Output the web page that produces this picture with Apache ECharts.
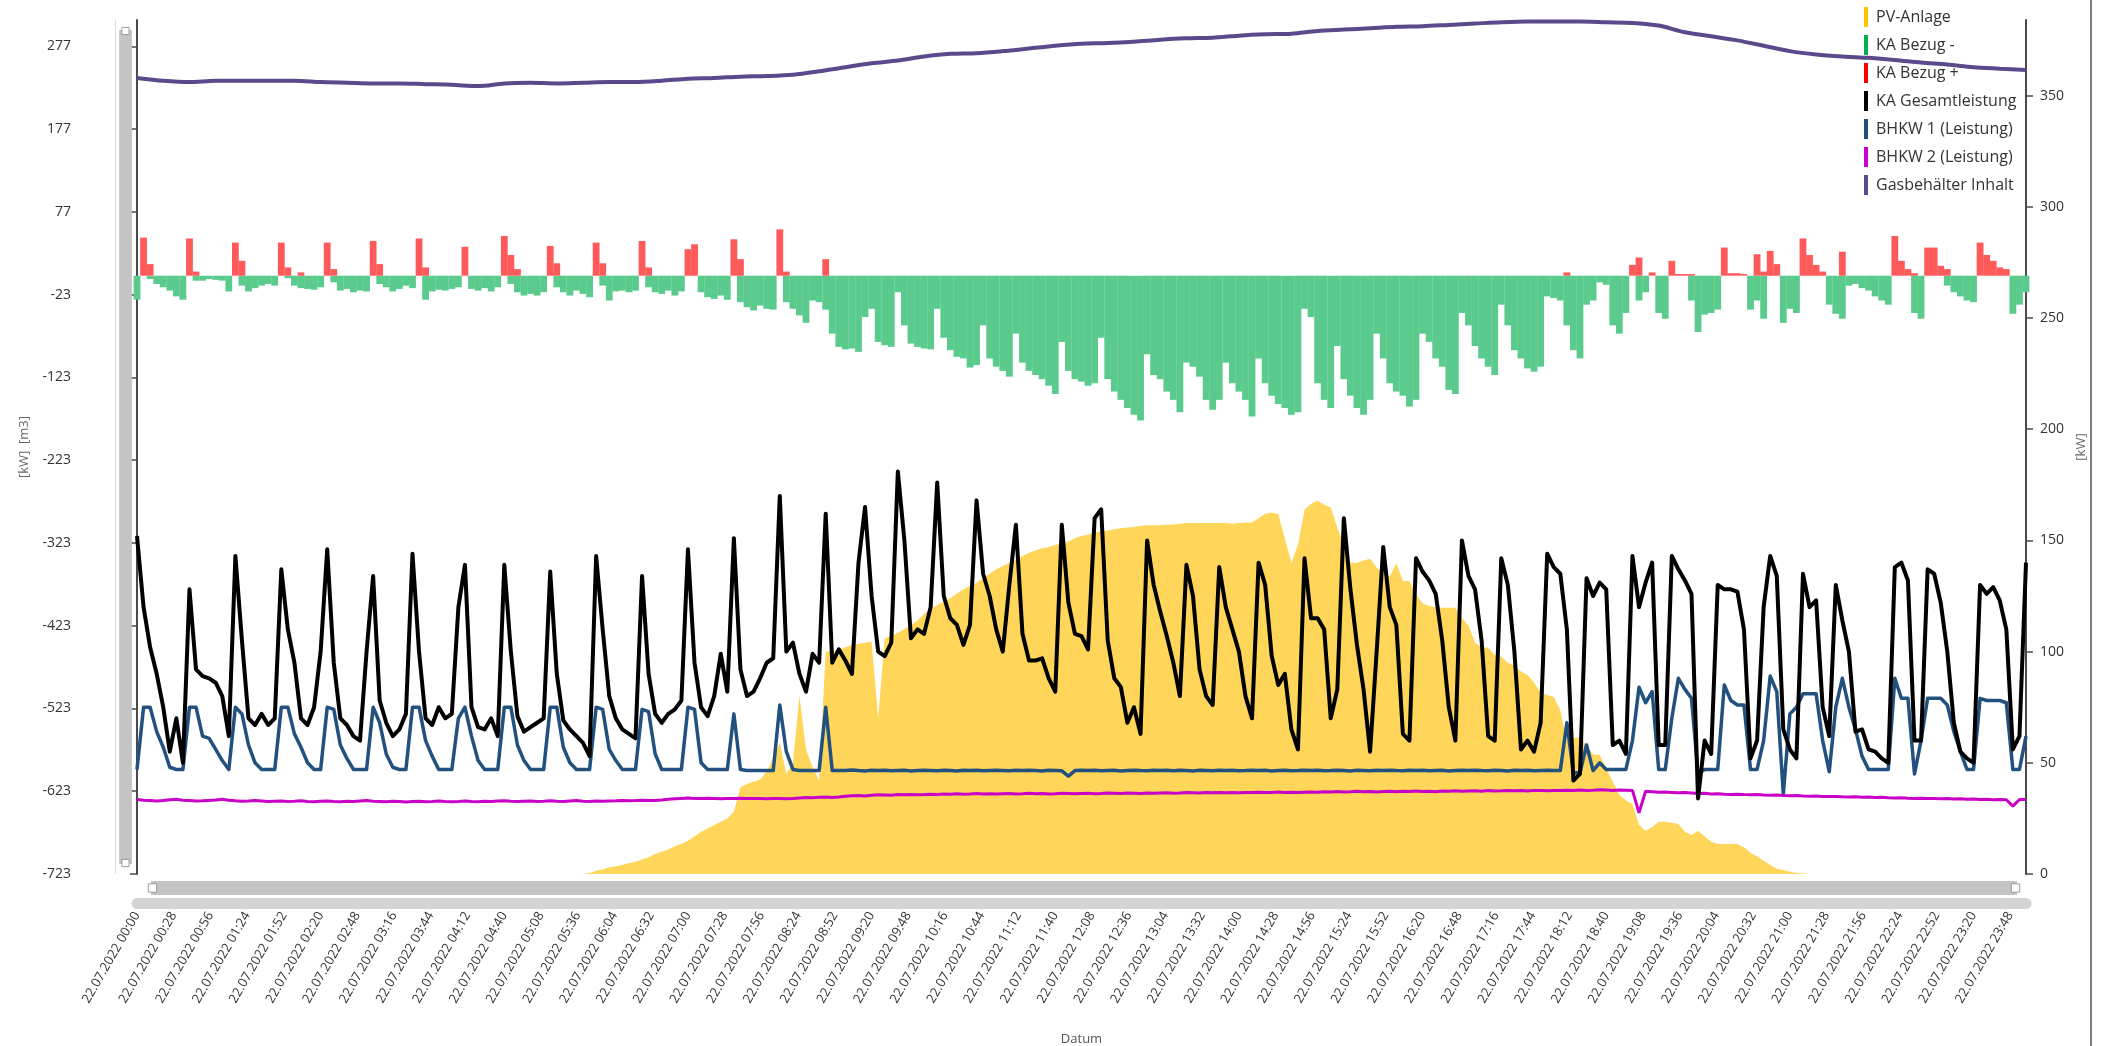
<!DOCTYPE html>
<html>
<head>
<meta charset="utf-8">
<script src="https://cdn.jsdelivr.net/npm/echarts@6/dist/echarts.min.js"></script>
<style>
html,body{margin:0;padding:0;background:#fff;}
#chart{width:2108px;height:1046px;}
</style>
</head>
<body>
<div id="chart"></div>
<script>
// ---- data (5-minute steps from 00:00, last value = 24:00) ----
const stepMin = 5;
const gasStepMin = 20;
const dateLabel = '22.07.2022';
const xTickStep = 28;
const leftTicks = [-723, -623, -523, -423, -323, -223, -123, -23, 77, 177, 277];
const rightTicks = [0, 50, 100, 150, 200, 250, 300, 350];

const pvAnlage = [
0,0,0,0,0,0,0,0,0,0,0,0,
0,0,0,0,0,0,0,0,0,0,0,0,
0,0,0,0,0,0,0,0,0,0,0,0,
0,0,0,0,0,0,0,0,0,0,0,0,
0,0,0,0,0,0,0,0,0,0,0,0,
0,0,0,0,0,0,0,0,0,0.5,1.5,2,
3,3.5,4,5,5.5,6.5,7.5,9,10,11,12.5,13.5,
15,17,19,20.5,22,23.5,25,28,39,40.5,41.5,42.5,
46,52,59,45,50,80,56,48,42,100,100,101,
102,103,103.5,104,104.5,70,106,107,108.5,110,112,114,
117,119,121,122.5,124,126,128,129.5,131,133,135,137,
138.5,140,141.5,143,144.5,145.5,146.5,147,148,148.5,149.5,151,
152,152.5,153.5,154,154.5,155,155.5,155.8,156,156.5,156.8,156.8,
156.8,157,157.2,157.5,157.8,157.8,157.8,157.8,157.8,157.8,157.8,157.5,
157.8,158,158,160,162,162.5,161.8,151,140,148,163.8,166.5,
167.8,166,164.8,155.8,148,140,139.8,141,141.8,137.8,135,133.8,
139.8,131.8,131.8,125.7,121.7,120.5,120,119.7,119.7,119.7,115,111.7,
104,102,101.7,98.5,97.7,95,93.7,91,89.6,86,81.6,80.5,
79.6,73.6,59.6,61,61.6,58,53.6,53.6,47.5,41.5,35.5,33,
31.5,22,19.5,21,23.5,23.5,23,22.5,19,17.5,19.5,17,
14.5,13.5,13.5,13.5,13.5,12,9.5,8,6,4,2.4,1.8,
1,0.5,0.2,0,0,0,0,0,0,0,0,0,
0,0,0,0,0,0,0,0,0,0,0,0,
0,0,0,0,0,0,0,0,0,0,0,0,
0];

const kaBezugMinus = [
-29,0,-4,-10,-14,-18,-25,-29,0,-6,-6,-4,
-5,-6,-19,0,-12,-19,-15,-12,-10,-12,0,-3,
-12,-15,-16,-17,-14,0,-8,-18,-16,-20,-18,-19,
0,-10,-14,-19,-16,-12,-15,0,-29,-19,-17,-18,
-16,-14,0,-16,-18,-15,-19,-14,0,-10,-20,-24,
-22,-24,-20,0,-14,-20,-24,-18,-22,-26,0,-12,
-30,-19,-18,-20,-18,0,-14,-20,-22,-18,-24,-19,
0,0,-20,-26,-28,-24,-29,0,-32,-38,-42,-36,
-40,-41,0,-32,-40,-48,-57,-30,-32,-41,-70,-86,
-89,-88,-92,-50,-40,-80,-84,-86,-20,-60,-82,-86,
-88,-89,-40,-75,-90,-98,-100,-111,-108,-60,-100,-110,
-115,-122,-70,-105,-115,-120,-125,-133,-143,-80,-115,-125,
-128,-133,-130,-75,-125,-140,-150,-160,-168,-175,-95,-120,
-125,-140,-150,-165,-105,-110,-122,-150,-162,-150,-105,-130,
-140,-150,-170,-100,-130,-145,-155,-160,-168,-165,-40,-50,
-130,-150,-160,-85,-125,-145,-160,-168,-150,-70,-100,-130,
-140,-145,-158,-150,-70,-80,-100,-110,-138,-143,-45,-60,
-85,-100,-110,-120,-35,-60,-90,-100,-112,-116,-110,-25,
-27,-30,-60,-90,-100,-35,-30,-8,-11,-60,-70,-45,
0,-30,-20,0,-45,-52,0,0,0,-30,-68,-47,
-45,-41,0,0,0,0,-41,-30,-52,0,0,-57,
-40,-45,0,0,0,0,-35,-46,-52,-12,-10,-15,
-18,-25,-30,-35,0,0,0,-45,-52,0,0,0,
-12,-20,-25,-30,-32,0,0,0,0,0,-46,-35,
-20];

const kaBezugPlus = [
0,46,14,0,0,0,0,0,45,5,0,0,
0,0,0,40,18,0,0,0,0,0,40,10,
0,4,0,0,0,40,8,0,0,0,0,0,
42,14,0,0,0,0,0,45,10,0,0,0,
0,0,35,0,0,0,0,0,48,25,8,0,
0,0,0,36,15,0,0,0,0,0,40,15,
0,0,0,0,0,42,10,0,0,0,0,0,
32,38,0,0,0,0,0,44,20,0,0,0,
0,0,56,5,0,0,0,0,0,20,0,0,
0,0,0,0,0,0,0,0,0,0,0,0,
0,0,0,0,0,0,0,0,0,0,0,0,
0,0,0,0,0,0,0,0,0,0,0,0,
0,0,0,0,0,0,0,0,0,0,0,0,
0,0,0,0,0,0,0,0,0,0,0,0,
0,0,0,0,0,0,0,0,0,0,0,0,
0,0,0,0,0,0,0,0,0,0,0,0,
0,0,0,0,0,0,0,0,0,0,0,0,
0,0,0,0,0,0,0,0,0,0,0,0,
0,0,4,0,0,0,0,0,0,0,0,0,
13,22,0,4,0,0,18,2,2,2,0,0,
0,0,34,3,3,2,0,26,5,30,14,0,
0,0,45,25,13,5,0,0,29,0,0,0,
0,0,0,0,48,18,8,3,0,34,34,12,
8,0,0,0,0,40,25,18,10,8,0,0,
0];

const kaGesamt = [
152,120,102,90,75,55,70,50,128,92,89,88,
86,80,62,143,105,70,67,72,67,70,137,110,
95,70,67,75,100,146,95,70,67,62,60,100,
134,78,68,62,65,72,144,100,70,67,75,70,
72,120,139,75,66,65,70,62,139,100,71,64,
66,68,70,136,90,69,65,62,59,53,143,110,
80,70,65,63,61,134,90,72,68,72,74,78,
146,95,75,71,80,99,82,151,92,80,82,88,
95,97,170,100,104,90,82,99,95,162,95,101,
96,90,140,165,125,100,98,104,181,150,106,110,
108,120,176,125,115,112,103,112,168,135,125,110,
100,130,157,108,96,96,97,88,82,157,122,108,
107,101,160,164,105,88,84,68,75,63,150,130,
118,107,95,80,139,125,92,80,76,138,120,110,
100,80,70,140,130,98,85,90,65,56,142,115,
115,110,70,83,160,128,103,83,55,100,147,120,
112,63,60,142,136,132,126,105,75,60,150,134,
128,105,62,60,142,130,100,56,60,55,68,144,
138,135,110,42,45,133,125,131,128,58,60,54,
143,120,131,140,58,58,143,137,132,126,34,60,
54,130,128,128,127,110,52,60,120,143,134,65,
56,52,135,120,123,75,62,130,114,100,64,65,
56,55,52,50,138,140,132,60,60,137,135,122,
100,68,55,52,50,130,126,129,123,110,56,62,
140];

const bhkw1 = [
47,75,75,64,57,48,47,47,75,75,62,61,
56,51,47,75,72,58,50,47,47,47,75,75,
63,57,50,47,47,75,74,58,52,47,47,47,
75,68,54,48,47,47,75,75,60,53,47,47,
47,70,75,62,51,47,47,47,75,75,58,51,
47,47,47,75,75,57,50,47,47,47,75,74,
56,51,47,47,47,74,73,54,47,47,47,47,
75,74,50,47,47,47,47,72,47,46.5,46.5,46.5,
46.5,46.5,76,55,47,46.5,46.5,46.5,46.5,75,46.5,46.5,
46.5,46.8,46.5,46.3,46.6,46.5,46.7,46.4,46.5,46.6,46.3,46.5,
46.6,46.5,46.4,46.7,46.5,46.3,46.6,46.5,46.7,46.4,46.5,46.6,
46.5,46.4,46.6,46.5,46.7,46.5,46.3,46.6,46.5,46.4,44,46.5,
46.6,46.5,46.7,46.4,46.5,46.6,46.3,46.5,46.7,46.5,46.4,46.6,
46.5,46.7,46.4,46.6,46.5,46.3,46.6,46.5,46.4,46.7,46.5,46.6,
46.4,46.5,46.7,46.5,46.6,46.3,46.5,46.6,46.4,46.5,46.7,46.5,
46.6,46.4,46.5,46.7,46.5,46.3,46.6,46.5,46.4,46.6,46.5,46.7,
46.5,46.4,46.6,46.5,46.7,46.4,46.5,46.6,46.3,46.5,46.6,46.5,
46.7,46.5,46.4,46.6,46.5,46.3,46.6,46.5,46.7,46.4,46.5,46.6,
46.5,46.5,68,45.5,45.5,58,46.5,50,47,47,47,47,
60,84,77,82,47,47,70,88,83,79,45,47,
47,47,85,78,76,76,47,47,60,89,82,36,
72,75,81,81,81,60,46,75,88,75,65,53,
47,47,47,47,88,79,79,45,60,79,79,79,
76,64,55,47,47,79,78,78,78,77,47,47,
62];

const bhkw2 = [
33.5,33.2,33,32.8,33,33.4,33.6,33.2,33,32.8,32.9,33.1,
33.3,33.6,33.2,32.9,32.7,32.8,33,32.8,32.6,32.7,32.8,32.6,
32.7,32.9,32.6,32.5,32.7,32.8,32.6,32.5,32.7,32.6,32.8,33,
32.7,32.6,32.5,32.7,32.6,32.4,32.6,32.7,32.5,32.6,32.8,32.6,
32.5,32.6,32.8,32.6,32.5,32.7,32.6,32.8,32.9,32.7,32.6,32.7,
32.8,32.6,32.7,32.9,32.7,32.6,32.8,33,32.7,32.6,32.8,32.7,
32.8,32.9,33.1,32.9,33,33.2,33,33.1,33.3,33.6,33.8,34,
34.2,34,33.9,34.1,34,33.8,34,33.9,34.1,34,33.9,34,
33.8,33.9,34,33.8,33.9,34.2,34.4,34.3,34.5,34.6,34.4,34.6,
35,35.2,35.3,35.1,35.4,35.6,35.5,35.4,35.7,35.6,35.8,35.6,
35.7,35.9,35.8,36,35.9,36.1,35.9,36,36.2,36,36.1,36,
36.1,36.2,36,36.1,36.3,36.1,36.2,36,36.1,36.3,36.2,36.1,
36.2,36.3,36.1,36.2,36.4,36.3,36.2,36.4,36.3,36.2,36.4,36.3,
36.4,36.5,36.3,36.4,36.6,36.5,36.4,36.6,36.5,36.7,36.5,36.6,
36.5,36.7,36.6,36.8,36.6,36.7,36.9,36.7,36.8,36.6,36.8,36.9,
36.8,37,36.9,37.1,36.9,37,37.2,37,37.1,36.9,37.1,37.2,
37,37.2,37.1,37.3,37.1,37.2,37,37.3,37.2,37.4,37.2,37.3,
37.4,37.2,37.5,37.3,37.4,37.6,37.4,37.5,37.3,37.6,37.5,37.4,
37.6,37.5,37.7,37.5,37.8,37.6,37.7,37.9,37.8,37.6,37.8,37.7,
37.6,27.5,37.2,37,36.8,36.9,36.7,36.5,36.6,36.4,36.2,36.3,
36,36.1,35.9,35.8,35.9,35.7,35.6,35.7,35.5,35.4,35.5,35.3,
35.2,35.3,35.1,35,35.1,34.9,34.8,34.9,34.7,34.6,34.7,34.5,
34.6,34.4,34.5,34.3,34.2,34.3,34.1,34,34.1,33.9,34,33.8,
33.9,33.7,33.8,33.6,33.7,33.5,33.6,33.4,33.5,33.4,30.5,33.5,
33.5];

// Gasbehälter Inhalt, 20-minute steps from 00:00 to 24:00
const gasInhalt = [
239,235.6,234,235.6,235.6,235.6,235.6,234,233.2,232.4,
232.4,231.5,230.7,229.1,232.4,233.2,232.4,233.2,234,234,
235.6,238,238.9,240.5,241.3,242.9,247,251.9,256.7,260,
264.9,268.1,268.9,271.4,274.6,277.9,280.3,281.1,282.8,285.2,
286.8,287.6,290.1,291.7,292.5,295.8,297.4,299,300.7,301.5,
303.1,304.7,306.3,307.2,307.2,307.2,306.3,305.5,302.3,294.1,
289.3,284.4,277.9,271.4,267.3,264.9,263.3,260.8,257.6,255.1,
251.9,250.2,248.6];

// ---- build ----
const toPairs = (arr, step) => arr.map((v, i) => [i * step, v]);
const pad = n => (n < 10 ? '0' : '') + n;
const FONT = "'Open Sans', 'Noto Sans', 'DejaVu Sans', sans-serif";

const chart = echarts.init(document.getElementById('chart'), null, {renderer: 'canvas'});

const sliderStyle = {
  type: 'slider',
  filterMode: 'none',
  start: 0, end: 100,
  showDetail: false,
  showDataShadow: false,
  brushSelect: false,
  moveHandleSize: 0,
  backgroundColor: '#c4c4c4',
  borderColor: '#c4c4c4',
  fillerColor: 'rgba(196,196,196,1)',
  handleIcon: 'path://M0,0 L10,0 L10,10 L0,10 Z',
  handleSize: '60%',
  handleStyle: {color: '#ffffff', borderColor: '#9a9a9a', borderWidth: 1},
  dataBackground: {lineStyle: {opacity: 0}, areaStyle: {opacity: 0}},
  selectedDataBackground: {lineStyle: {opacity: 0}, areaStyle: {opacity: 0}},
  emphasis: {handleStyle: {color: '#ffffff', borderColor: '#9a9a9a'}}
};

const option = {
  animation: false,
  backgroundColor: '#ffffff',
  textStyle: {fontFamily: FONT},
  grid: {left: 137, right: 82, top: 20, bottom: 172, containLabel: false, outerBoundsMode: 'none'},
  legend: {
    orient: 'vertical',
    left: 1864,
    top: 7,
    icon: 'rect',
    itemWidth: 4,
    itemHeight: 20,
    itemGap: 8,
    padding: 0,
    textStyle: {fontSize: 16, color: '#333', fontFamily: FONT, padding: [0, 0, 0, 3]},
    itemStyle: {borderWidth: 0},
    data: [
      {name: 'PV-Anlage', itemStyle: {color: '#FFC000'}},
      {name: 'KA Bezug -', itemStyle: {color: '#00B050'}},
      {name: 'KA Bezug +', itemStyle: {color: '#FF0000'}},
      {name: 'KA Gesamtleistung', itemStyle: {color: '#000000'}},
      {name: 'BHKW 1 (Leistung)', itemStyle: {color: '#1F4E79'}},
      {name: 'BHKW 2 (Leistung)', itemStyle: {color: '#CC00CC'}},
      {name: 'Gasbehälter Inhalt', itemStyle: {color: '#5B4A8B'}}
    ]
  },
  xAxis: {
    type: 'value',
    min: 0,
    max: 1440,
    interval: xTickStep,
    offset: 29,
    splitLine: {show: false},
    axisTick: {show: false},
    axisLine: {show: true, onZero: false, lineStyle: {color: '#d4d4d4', width: 11}},
    axisLabel: {
      rotate: 60,
      margin: 10,
      fontSize: 13,
      color: '#333',
      showMaxLabel: false,
      formatter: v => dateLabel + ' ' + pad(Math.floor(v / 60)) + ':' + pad(v % 60)
    },
    name: 'Datum',
    nameLocation: 'middle',
    nameGap: 130,
    nameTextStyle: {fontSize: 13, color: '#555'}
  },
  yAxis: [
    {
      type: 'value',
      position: 'left',
      min: -723,
      max: 309,
      offset: 54,
      splitLine: {show: false},
      axisLine: {show: true, lineStyle: {color: '#4a4a4a', width: 2}},
      axisTick: {show: true, length: 7, customValues: leftTicks, lineStyle: {color: '#4a4a4a', width: 1.5}},
      axisLabel: {customValues: leftTicks, fontSize: 14, color: '#333', margin: 12},
      name: '[kW]  [m3]',
      nameLocation: 'middle',
      nameGap: 52,
      nameTextStyle: {fontSize: 13, color: '#666'}
    },
    {
      type: 'value',
      position: 'right',
      min: 0,
      max: 384,
      splitLine: {show: false},
      axisLine: {show: true, lineStyle: {color: '#4a4a4a', width: 2}},
      axisTick: {show: true, length: 7, customValues: rightTicks, lineStyle: {color: '#4a4a4a', width: 1.5}},
      axisLabel: {customValues: rightTicks, fontSize: 14, color: '#333', margin: 14},
      name: '[kW]',
      nameLocation: 'middle',
      nameGap: 48,
      nameTextStyle: {fontSize: 13, color: '#666'}
    }
  ],
  dataZoom: [
    Object.assign({}, sliderStyle, {xAxisIndex: 0, left: 150, right: 93, top: 881, height: 14, orient: 'horizontal'}),
    Object.assign({}, sliderStyle, {yAxisIndex: [0, 1], left: 119, width: 12, top: 30, bottom: 182, orient: 'vertical'})
  ],
  graphic: [
    {type: 'line', shape: {x1: 2091, y1: 0, x2: 2091, y2: 1046}, style: {stroke: '#555', lineWidth: 1.5}, silent: true},
    {type: 'line', shape: {x1: 115.5, y1: 20, x2: 115.5, y2: 874}, style: {stroke: '#dcdcdc', lineWidth: 1}, silent: true}
  ],
  series: [
    {
      name: 'PV-Anlage', type: 'line', yAxisIndex: 1, z: 1,
      data: toPairs(pvAnlage, stepMin),
      symbol: 'none', showSymbol: false,
      itemStyle: {color: '#FFC000'},
      lineStyle: {width: 0, color: '#FFD659'},
      areaStyle: {color: '#FFD659', opacity: 1}
    },
    {
      name: 'KA Bezug -', type: 'bar', yAxisIndex: 0, z: 2,
      data: toPairs(kaBezugMinus, stepMin),
      barWidth: 6.8, barGap: '-100%',
      itemStyle: {color: '#5ACB8D'}
    },
    {
      name: 'KA Bezug +', type: 'bar', yAxisIndex: 0, z: 2,
      data: toPairs(kaBezugPlus, stepMin),
      barWidth: 6.8, barGap: '-100%',
      itemStyle: {color: '#FF5A5A'}
    },
    {
      name: 'KA Gesamtleistung', type: 'line', yAxisIndex: 1, z: 6,
      data: toPairs(kaGesamt, stepMin),
      symbol: 'none', showSymbol: false,
      itemStyle: {color: '#000000'},
      lineStyle: {width: 4, color: '#000000', join: 'round'}
    },
    {
      name: 'BHKW 1 (Leistung)', type: 'line', yAxisIndex: 1, z: 5,
      data: toPairs(bhkw1, stepMin),
      symbol: 'none', showSymbol: false,
      itemStyle: {color: '#1F4E79'},
      lineStyle: {width: 3.5, color: '#22507F', join: 'round'}
    },
    {
      name: 'BHKW 2 (Leistung)', type: 'line', yAxisIndex: 1, z: 5,
      data: toPairs(bhkw2, stepMin),
      symbol: 'none', showSymbol: false,
      itemStyle: {color: '#CC00CC'},
      lineStyle: {width: 3, color: '#C800C8'}
    },
    {
      name: 'Gasbehälter Inhalt', type: 'line', yAxisIndex: 0, z: 5,
      data: toPairs(gasInhalt, gasStepMin),
      symbol: 'none', showSymbol: false, smooth: 0.3,
      itemStyle: {color: '#5B4A8B'},
      lineStyle: {width: 4, color: '#5B4A8B'}
    }
  ]
};

chart.setOption(option);
</script>
</body>
</html>
